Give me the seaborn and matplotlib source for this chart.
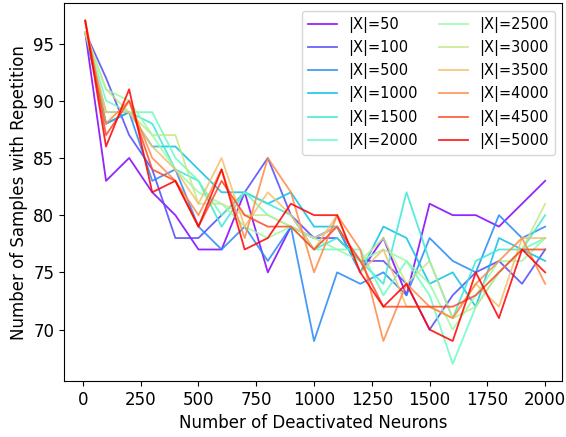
import matplotlib
matplotlib.use("Agg")
import matplotlib.pyplot as plt
import seaborn as sns
import pandas as pd
import numpy as np

neurons = [10, 100, 200, 300, 400, 500, 600, 700, 800, 900, 1000,
           1100, 1200, 1300, 1400, 1500, 1600, 1700, 1800, 1900, 2000]

sizes = [50, 100, 500, 1000, 1500, 2000, 2500, 3000, 3500, 4000, 4500, 5000]

x50 = [96, 83, 85, 82, 80, 77, 77, 82, 75, 79, 78, 79, 75, 78, 73, 81, 80, 80, 79, 81, 83]
x100 = [96, 92, 87, 84, 78, 78, 80, 82, 85, 80, 78, 78, 76, 76, 74, 70, 73, 75, 76, 74, 77]
x500 = [96, 88, 89, 83, 84, 79, 77, 79, 76, 79, 69, 75, 74, 75, 73, 78, 76, 75, 80, 78, 79]
x1000 = [96, 88, 89, 86, 86, 84, 82, 82, 81, 82, 79, 79, 75, 79, 78, 74, 75, 72, 78, 77, 76]
x1500 = [96, 89, 89, 88, 84, 83, 79, 82, 81, 80, 77, 78, 76, 74, 82, 76, 71, 76, 77, 77, 80]
x2000 = [96, 90, 89, 89, 85, 83, 80, 82, 80, 79, 77, 77, 77, 73, 76, 73, 67, 72, 75, 77, 78]
x2500 = [96, 91, 90, 87, 84, 82, 81, 79, 78, 79, 78, 77, 76, 77, 76, 74, 70, 73, 76, 76, 78]
x3000 = [96, 91, 89, 87, 87, 81, 81, 80, 80, 79, 78, 79, 76, 78, 74, 76, 71, 72, 75, 77, 81]
x3500 = [96, 89, 89, 86, 84, 81, 85, 79, 82, 80, 77, 80, 75, 77, 72, 72, 71, 74, 72, 78, 78]
x4000 = [97, 88, 90, 85, 83, 80, 84, 78, 85, 82, 75, 80, 77, 69, 74, 72, 71, 74, 76, 78, 74]
x4500 = [97, 87, 90, 84, 83, 79, 83, 80, 79, 79, 77, 79, 76, 72, 72, 72, 72, 73, 75, 77, 77]
x5000 = [97, 86, 91, 82, 83, 79, 84, 77, 78, 81, 80, 80, 75, 72, 74, 70, 69, 75, 71, 77, 75]

series = [x50, x100, x500, x1000, x1500, x2000, x2500, x3000, x3500, x4000, x4500, x5000]

rows = []
for size, vals in zip(sizes, series):
    for n, v in zip(neurons, vals):
        rows.append({"neurons": n, "samples": v, "size": f"|X|={size}"})
df = pd.DataFrame(rows)

colors = [plt.cm.rainbow(t) for t in np.linspace(0, 1, len(sizes))]

plt.rcParams["font.size"] = 12
fig, ax = plt.subplots(figsize=(5.66, 4.37), dpi=100)
sns.lineplot(data=df, x="neurons", y="samples", hue="size",
             palette=colors, linewidth=1.3, alpha=0.85, ax=ax)
sns.move_legend(ax, "upper right", ncol=2, title=None, fontsize=10.5,
                columnspacing=1.4)
ax.set_xlabel("Number of Deactivated Neurons")
ax.set_ylabel("Number of Samples with Repetition")
ax.set_xticks([0, 250, 500, 750, 1000, 1250, 1500, 1750, 2000])
ax.set_xlim(-82, 2073)
fig.subplots_adjust(left=0.113, right=0.993, top=0.992, bottom=0.128)
fig.savefig("out.png", dpi=100)
